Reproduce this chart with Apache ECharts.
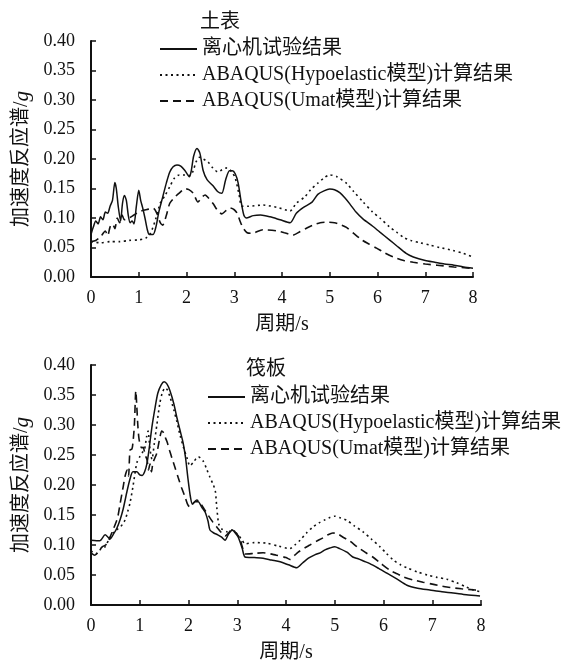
<!DOCTYPE html>
<html>
<head>
<meta charset="utf-8">
<script src="https://cdn.jsdelivr.net/npm/echarts@6/dist/echarts.min.js"></script>
<style>
  html, body { margin: 0; padding: 0; background: #fff; }
  #chart { width: 561px; height: 666px; }
</style>
</head>
<body>
<div id="chart"></div>
<script>
// Period axis ticks (s) and spectral acceleration ticks (g)
const periodTicks = [0, 1, 2, 3, 4, 5, 6, 7, 8];
const accelTicks = [0, 0.05, 0.10, 0.15, 0.20, 0.25, 0.30, 0.35, 0.40];

const seriesNames = ['离心机试验结果', 'ABAQUS(Hypoelastic模型)计算结果', 'ABAQUS(Umat模型)计算结果'];
const panelTitles = ['土表', '筏板'];

// Ground surface (土表): [period s, Sa g]
const surfaceTest = [[0,0.072],[0.05,0.085],[0.1,0.095],[0.15,0.09],[0.2,0.102],[0.25,0.097],[0.3,0.11],[0.35,0.108],[0.4,0.12],[0.45,0.13],[0.5,0.16],[0.53,0.15],[0.57,0.12],[0.62,0.095],[0.66,0.125],[0.7,0.138],[0.74,0.13],[0.78,0.105],[0.82,0.092],[0.86,0.095],[0.9,0.09],[0.95,0.12],[1.0,0.147],[1.04,0.13],[1.08,0.118],[1.13,0.1],[1.18,0.08],[1.22,0.072],[1.3,0.072],[1.36,0.085],[1.42,0.11],[1.5,0.135],[1.58,0.16],[1.65,0.178],[1.72,0.187],[1.8,0.19],[1.88,0.188],[1.97,0.18],[2.06,0.17],[2.1,0.18],[2.15,0.205],[2.22,0.218],[2.28,0.21],[2.35,0.18],[2.43,0.165],[2.55,0.155],[2.65,0.145],[2.74,0.142],[2.82,0.165],[2.9,0.18],[2.96,0.18],[3.02,0.175],[3.08,0.16],[3.14,0.13],[3.2,0.105],[3.25,0.1],[3.4,0.104],[3.55,0.105],[3.75,0.102],[3.96,0.097],[4.17,0.092],[4.3,0.108],[4.45,0.118],[4.63,0.127],[4.75,0.14],[4.88,0.146],[5.0,0.149],[5.1,0.148],[5.21,0.143],[5.32,0.134],[5.42,0.124],[5.55,0.11],[5.7,0.098],[5.9,0.086],[6.05,0.076],[6.25,0.063],[6.4,0.053],[6.6,0.04],[6.75,0.034],[7.0,0.028],[7.2,0.025],[7.4,0.022],[7.6,0.02],[7.8,0.017],[8.0,0.015]];
const surfaceHypo = [[0,0.06],[0.2,0.058],[0.4,0.06],[0.6,0.06],[0.8,0.062],[1.0,0.063],[1.15,0.066],[1.25,0.075],[1.35,0.097],[1.45,0.125],[1.55,0.138],[1.65,0.153],[1.75,0.168],[1.85,0.173],[1.97,0.173],[2.08,0.172],[2.14,0.18],[2.2,0.195],[2.27,0.203],[2.35,0.2],[2.45,0.195],[2.55,0.185],[2.66,0.178],[2.75,0.182],[2.85,0.185],[2.95,0.178],[3.02,0.168],[3.1,0.14],[3.16,0.12],[3.3,0.12],[3.6,0.122],[3.9,0.118],[4.17,0.112],[4.3,0.125],[4.48,0.136],[4.6,0.148],[4.75,0.159],[4.88,0.168],[5.0,0.173],[5.15,0.17],[5.36,0.158],[5.5,0.145],[5.7,0.127],[5.9,0.11],[6.05,0.1],[6.25,0.085],[6.4,0.076],[6.55,0.067],[6.7,0.062],[6.9,0.058],[7.1,0.054],[7.3,0.05],[7.58,0.045],[7.8,0.04],[8.0,0.034]];
const surfaceUmat = [[0,0.06],[0.1,0.062],[0.2,0.068],[0.3,0.078],[0.35,0.07],[0.4,0.085],[0.45,0.09],[0.5,0.082],[0.55,0.1],[0.6,0.092],[0.65,0.105],[0.7,0.097],[0.8,0.1],[0.9,0.105],[1.0,0.11],[1.1,0.113],[1.2,0.115],[1.3,0.117],[1.38,0.108],[1.45,0.092],[1.5,0.088],[1.58,0.105],[1.65,0.125],[1.75,0.135],[1.86,0.143],[1.97,0.15],[2.05,0.148],[2.14,0.142],[2.24,0.127],[2.32,0.135],[2.39,0.139],[2.47,0.133],[2.56,0.124],[2.65,0.113],[2.74,0.107],[2.82,0.112],[2.91,0.117],[3.0,0.114],[3.06,0.108],[3.12,0.095],[3.18,0.084],[3.27,0.075],[3.37,0.074],[3.6,0.08],[3.9,0.078],[4.05,0.075],[4.23,0.071],[4.38,0.077],[4.52,0.083],[4.65,0.088],[4.8,0.092],[4.95,0.093],[5.1,0.092],[5.22,0.089],[5.35,0.084],[5.5,0.074],[5.67,0.063],[5.82,0.056],[5.98,0.049],[6.15,0.041],[6.33,0.034],[6.55,0.028],[6.75,0.025],[7.0,0.022],[7.25,0.02],[7.6,0.017],[7.94,0.015]];

// Raft (筏板): [period s, Sa g]
const raftTest = [[0,0.108],[0.18,0.107],[0.29,0.117],[0.35,0.113],[0.39,0.11],[0.46,0.118],[0.53,0.128],[0.6,0.143],[0.66,0.16],[0.74,0.19],[0.8,0.21],[0.86,0.222],[0.94,0.222],[1.0,0.217],[1.05,0.216],[1.1,0.222],[1.15,0.237],[1.2,0.265],[1.25,0.297],[1.31,0.327],[1.37,0.353],[1.44,0.367],[1.5,0.372],[1.56,0.368],[1.62,0.357],[1.7,0.335],[1.76,0.313],[1.83,0.29],[1.89,0.27],[1.94,0.245],[1.99,0.21],[2.04,0.18],[2.08,0.168],[2.14,0.172],[2.2,0.172],[2.27,0.163],[2.34,0.155],[2.4,0.14],[2.44,0.125],[2.52,0.12],[2.6,0.117],[2.68,0.113],[2.75,0.108],[2.82,0.118],[2.9,0.125],[2.96,0.12],[3.02,0.113],[3.1,0.095],[3.16,0.08],[3.35,0.079],[3.53,0.078],[3.7,0.075],[3.88,0.072],[4.05,0.067],[4.22,0.062],[4.34,0.07],[4.46,0.078],[4.6,0.084],[4.7,0.087],[4.8,0.092],[4.9,0.095],[5.0,0.097],[5.1,0.094],[5.25,0.088],[5.37,0.08],[5.48,0.077],[5.6,0.073],[5.72,0.069],[5.9,0.061],[6.07,0.053],[6.28,0.043],[6.48,0.033],[6.7,0.028],[6.95,0.025],[7.2,0.022],[7.43,0.02],[7.7,0.017],[7.98,0.015]];
const raftHypo = [[0,0.09],[0.1,0.085],[0.2,0.093],[0.29,0.097],[0.37,0.11],[0.45,0.12],[0.52,0.125],[0.6,0.13],[0.65,0.135],[0.7,0.142],[0.75,0.155],[0.8,0.17],[0.86,0.197],[0.94,0.237],[1.0,0.247],[1.06,0.255],[1.1,0.26],[1.14,0.28],[1.17,0.29],[1.21,0.26],[1.25,0.243],[1.3,0.27],[1.35,0.3],[1.41,0.335],[1.46,0.353],[1.52,0.362],[1.57,0.358],[1.62,0.347],[1.7,0.325],[1.76,0.306],[1.83,0.282],[1.9,0.262],[1.97,0.245],[2.03,0.232],[2.1,0.238],[2.2,0.247],[2.3,0.24],[2.38,0.225],[2.44,0.213],[2.51,0.2],[2.55,0.19],[2.58,0.163],[2.62,0.135],[2.68,0.127],[2.79,0.122],[2.88,0.125],[2.95,0.122],[3.02,0.117],[3.1,0.108],[3.16,0.102],[3.35,0.104],[3.6,0.103],[3.85,0.098],[4.08,0.094],[4.18,0.1],[4.29,0.108],[4.42,0.12],[4.55,0.13],[4.68,0.137],[4.8,0.142],[4.9,0.146],[5.0,0.148],[5.12,0.145],[5.25,0.141],[5.4,0.132],[5.58,0.122],[5.75,0.11],[5.93,0.097],[6.06,0.086],[6.2,0.075],[6.35,0.067],[6.48,0.062],[6.7,0.055],[6.9,0.05],[7.1,0.046],[7.3,0.043],[7.5,0.037],[7.7,0.03],[7.84,0.025],[8.0,0.022]];
const raftUmat = [[0,0.087],[0.08,0.083],[0.16,0.09],[0.23,0.097],[0.3,0.1],[0.35,0.105],[0.4,0.115],[0.45,0.125],[0.5,0.135],[0.55,0.147],[0.6,0.17],[0.66,0.197],[0.7,0.215],[0.74,0.225],[0.77,0.215],[0.8,0.258],[0.84,0.26],[0.86,0.27],[0.89,0.3],[0.92,0.357],[0.94,0.33],[0.96,0.3],[0.98,0.28],[1.0,0.27],[1.04,0.262],[1.07,0.263],[1.11,0.25],[1.15,0.242],[1.18,0.225],[1.21,0.235],[1.24,0.222],[1.27,0.237],[1.31,0.245],[1.35,0.253],[1.41,0.278],[1.45,0.29],[1.48,0.288],[1.52,0.28],[1.56,0.272],[1.61,0.258],[1.66,0.245],[1.72,0.23],[1.79,0.212],[1.86,0.195],[1.93,0.18],[1.98,0.168],[2.03,0.163],[2.1,0.17],[2.17,0.175],[2.24,0.17],[2.32,0.16],[2.4,0.15],[2.5,0.138],[2.58,0.13],[2.68,0.12],[2.75,0.115],[2.82,0.12],[2.9,0.127],[2.97,0.12],[3.05,0.112],[3.1,0.098],[3.16,0.085],[3.35,0.086],[3.53,0.087],[3.8,0.083],[4.0,0.079],[4.08,0.076],[4.18,0.083],[4.25,0.088],[4.38,0.095],[4.49,0.1],[4.62,0.106],[4.76,0.112],[4.86,0.117],[4.96,0.12],[5.05,0.119],[5.17,0.113],[5.3,0.107],[5.46,0.097],[5.62,0.088],[5.78,0.08],[5.95,0.069],[6.13,0.058],[6.28,0.052],[6.4,0.047],[6.6,0.042],[6.81,0.038],[7.05,0.034],[7.3,0.03],[7.6,0.027],[7.88,0.025],[8.0,0.024]];

const FONT = "'Liberation Serif', 'Noto Sans CJK SC', serif";
const INK = '#111';

// line styles: solid test record, dotted Hypoelastic, dashed Umat
const lineStyles = [
  { type: 'solid', width: 1.5, color: INK },
  { type: [2, 3.5], width: 1.6, color: INK },
  { type: [8, 5], width: 1.6, color: INK }
];

function xAxisFor(gridIndex, nameGap) {
  return {
    type: 'value', gridIndex,
    min: periodTicks[0], max: periodTicks[periodTicks.length - 1], interval: 1,
    name: '周期/s', nameLocation: 'middle', nameGap,
    nameTextStyle: { fontFamily: FONT, fontSize: 20, color: INK },
    axisLine: { lineStyle: { color: INK, width: 2 } },
    axisTick: { inside: true, length: 5, lineStyle: { color: INK, width: 1.5 } },
    axisLabel: { fontFamily: FONT, fontSize: 18, color: INK, margin: 12 },
    splitLine: { show: false }
  };
}

function yAxisFor(gridIndex) {
  return {
    type: 'value', gridIndex,
    min: accelTicks[0], max: accelTicks[accelTicks.length - 1], interval: 0.05,
    name: '{a|加速度反应谱/}{i|g}', nameLocation: 'middle', nameGap: 58,
    nameTextStyle: {
      rich: {
        a: { fontFamily: FONT, fontSize: 20, color: INK },
        i: { fontFamily: FONT, fontSize: 21, fontStyle: 'italic', color: INK }
      }
    },
    axisLine: { lineStyle: { color: INK, width: 2 } },
    axisTick: { inside: true, length: 5, lineStyle: { color: INK, width: 1.5 } },
    axisLabel: { fontFamily: FONT, fontSize: 18, color: INK, margin: 16,
      formatter: v => v.toFixed(2) },
    splitLine: { show: false }
  };
}

function legendAt(left, top) {
  return {
    left, top, orient: 'vertical', padding: 0,
    itemWidth: 37, itemHeight: 12, itemGap: 6,
    data: seriesNames,
    // keep only the line sample, hide the marker dot
    itemStyle: { color: 'transparent', borderWidth: 0, opacity: 0 },
    textStyle: { fontFamily: FONT, fontSize: 20, color: INK, lineHeight: 20 },
    selectedMode: false
  };
}

function makeSeries(name, data, idx, axisIndex) {
  return {
    type: 'line', name, data,
    xAxisIndex: axisIndex, yAxisIndex: axisIndex,
    symbol: 'none', smooth: 0.25,
    lineStyle: lineStyles[idx],
    itemStyle: { color: INK },
    animation: false, z: 3 - idx
  };
}

const chart = echarts.init(document.getElementById('chart'), null, { renderer: 'canvas' });
chart.setOption({
  backgroundColor: '#fff',
  animation: false,
  title: [
    { text: panelTitles[0], left: 200, top: 13, padding: 0,
      textStyle: { fontFamily: FONT, fontSize: 20, fontWeight: 'normal', color: INK } },
    { text: panelTitles[1], left: 246, top: 360, padding: 0,
      textStyle: { fontFamily: FONT, fontSize: 20, fontWeight: 'normal', color: INK } }
  ],
  legend: [legendAt(159, 39), legendAt(207, 387)],
  grid: [
    { left: 91, top: 41, width: 382, height: 236, containLabel: false },
    { left: 91, top: 365, width: 390, height: 240, containLabel: false }
  ],
  xAxis: [xAxisFor(0, 38), xAxisFor(1, 38)],
  yAxis: [yAxisFor(0), yAxisFor(1)],
  series: [
    makeSeries(seriesNames[0], surfaceTest, 0, 0),
    makeSeries(seriesNames[1], surfaceHypo, 1, 0),
    makeSeries(seriesNames[2], surfaceUmat, 2, 0),
    makeSeries(seriesNames[0], raftTest, 0, 1),
    makeSeries(seriesNames[1], raftHypo, 1, 1),
    makeSeries(seriesNames[2], raftUmat, 2, 1)
  ]
});
</script>
</body>
</html>
